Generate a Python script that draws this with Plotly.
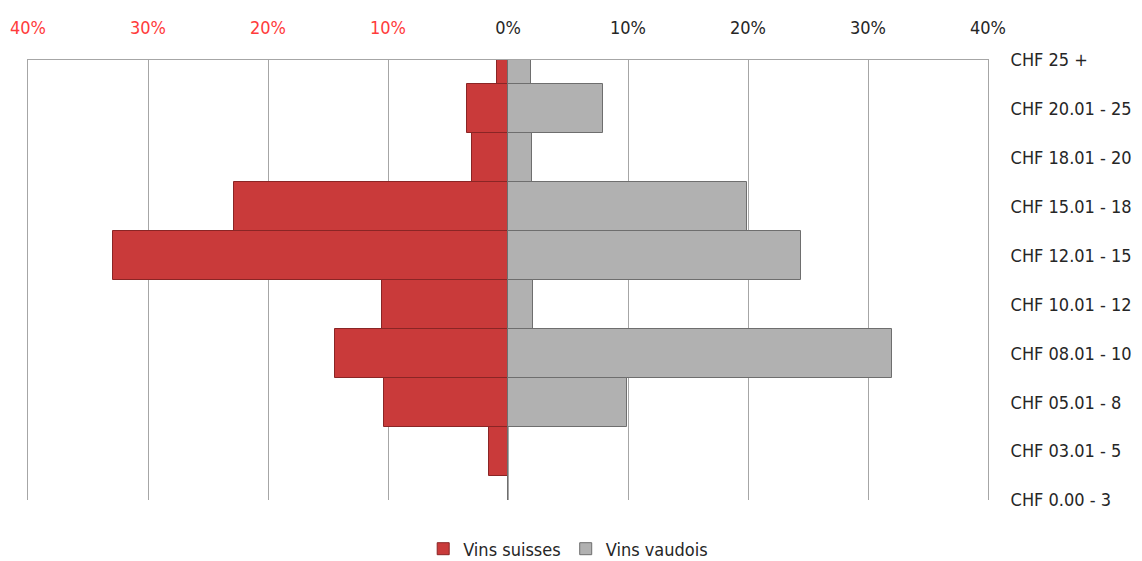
import plotly.graph_objects as go

categories = ["CHF 25 +", "CHF 20.01 - 25", "CHF 18.01 - 20", "CHF 15.01 - 18",
              "CHF 12.01 - 15", "CHF 10.01 - 12", "CHF 08.01 - 10", "CHF 05.01 - 8",
              "CHF 03.01 - 5", "CHF 0.00 - 3"]
vins_suisses = [0.9, 3.4, 3.0, 22.8, 32.9, 10.5, 14.4, 10.3, 1.6, 0.0]   # % (shown to the left)
vins_vaudois = [1.9, 7.9, 2.0, 19.9, 24.4, 2.1, 32.0, 9.9, 0.0, 0.0]    # %

tick_vals = [-40, -30, -20, -10, 0, 10, 20, 30, 40]
tick_text = ["<span style='color:#FF3B3B'>40%</span>", "<span style='color:#FF3B3B'>30%</span>",
             "<span style='color:#FF3B3B'>20%</span>", "<span style='color:#FF3B3B'>10%</span>",
             "0%", "10%", "20%", "30%", "40%"]

FONT = "DejaVu Sans Condensed, Roboto, sans-serif"

fig = go.Figure()
fig.add_trace(go.Bar(
    y=categories, x=[-v for v in vins_suisses], orientation="h", name="Vins suisses",
    marker=dict(color="#C93A3A", line=dict(color="#8A2525", width=1)),
    width=1.0,
))
fig.add_trace(go.Bar(
    y=categories, x=vins_vaudois, orientation="h", name="Vins vaudois",
    marker=dict(color="#B1B1B1", line=dict(color="#6E6E6E", width=1)),
    width=1.0,
))

fig.update_layout(
    width=1134, height=553,
    margin=dict(l=20, r=154, t=52, b=61, autoexpand=False),
    paper_bgcolor="white", plot_bgcolor="white",
    barmode="relative", bargap=0,
    font=dict(family=FONT, size=18, color="#262626"),
    xaxis=dict(
        side="top", range=[-40, 40], tickvals=tick_vals, ticktext=tick_text,
        showgrid=True, gridcolor="#A6A6A6", gridwidth=1, zeroline=False,
        showline=True, linecolor="#A6A6A6", linewidth=1, mirror=False,
        ticks="", ticklabelstandoff=18, tickfont=dict(size=18, color="#262626"),
        automargin=False,
    ),
    yaxis=dict(
        side="right", type="category", categoryorder="array", categoryarray=categories,
        range=[9, 0], showgrid=False, zeroline=False,
        showline=True, mirror=True, linecolor="#A6A6A6", linewidth=1,
        ticks="", ticklabelstandoff=18, tickfont=dict(size=18, color="#262626"),
        automargin=False,
    ),
    legend=dict(
        orientation="h", xref="container", yref="container",
        x=0.494, xanchor="center", y=0.0217, yanchor="middle",
        font=dict(size=18, color="#262626"), traceorder="normal",
    ),
    showlegend=True,
)

fig.write_html("out.html")
